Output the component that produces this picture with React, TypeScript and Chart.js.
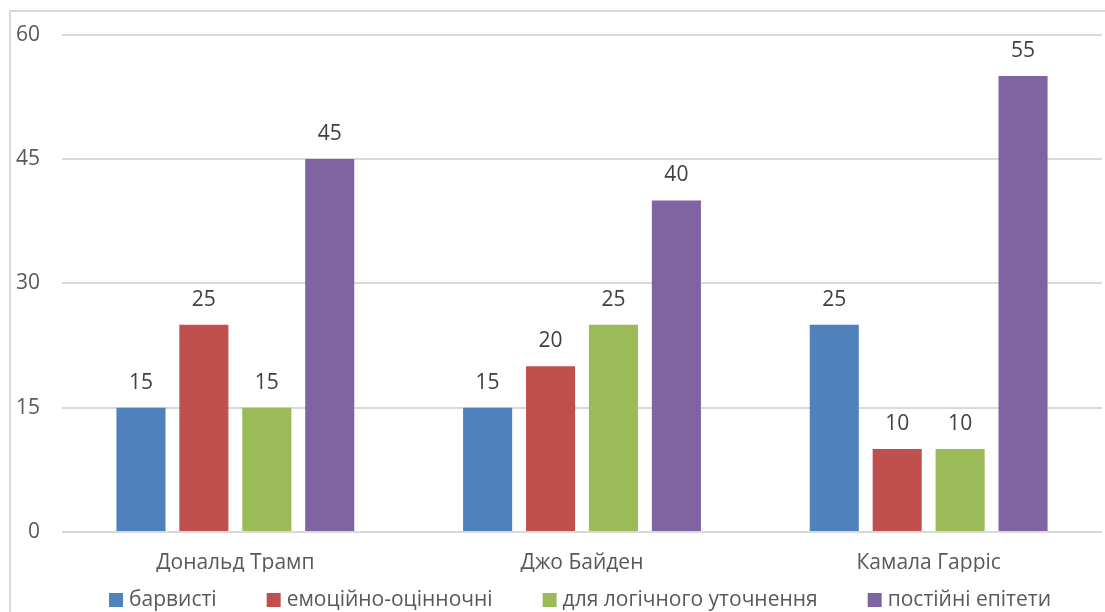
import React, { useEffect, useRef } from "react";
import { Chart, registerables } from "chart.js";

Chart.register(...registerables);

const categories = ["Дональд Трамп", "Джо Байден", "Камала Гарріс"];
const seriesNames = ["барвисті", "емоційно-оцінночні", "для логічного уточнення", "постійні епітети"];
const barvysti = [15, 15, 25];
const emotsiini = [25, 20, 10];
const logichni = [15, 25, 10];
const postiini = [45, 40, 55];
const yTicks = [0, 15, 30, 45, 60];
const colors = ["#4f81bd", "#c0504d", "#9bbb59", "#8064a2"];

const FONT = "'Open Sans', 'Liberation Sans', sans-serif";
const FSIZE = 21;

const valueLabels = {
  id: "valueLabels",
  afterDatasetsDraw(chart: any) {
    const ctx = chart.ctx;
    ctx.save();
    ctx.font = `${FSIZE}px ${FONT}`;
    ctx.fillStyle = "#404040";
    ctx.textAlign = "center";
    ctx.textBaseline = "middle";
    chart.data.datasets.forEach((ds: any, i: number) => {
      const meta = chart.getDatasetMeta(i);
      meta.data.forEach((bar: any, j: number) => {
        ctx.fillText(String(ds.data[j]), bar.x, bar.y - 25);
      });
    });
    ctx.restore();
  },
};

const bottomLegend = {
  id: "bottomLegend",
  afterDraw(chart: any) {
    const ctx = chart.ctx;
    ctx.save();
    ctx.font = `${FSIZE}px ${FONT}`;
    ctx.textBaseline = "middle";
    ctx.textAlign = "left";
    const box = 14;
    const gapBoxText = 6;
    const gapItems = 50;
    const items = chart.data.datasets.map((ds: any) => ({
      label: ds.label,
      color: ds.backgroundColor,
      w: box + gapBoxText + ctx.measureText(ds.label).width,
    }));
    const total = items.reduce((a: number, it: any) => a + it.w, 0) + gapItems * (items.length - 1);
    const ca = chart.chartArea;
    let x = (ca.left + ca.right) / 2 - total / 2 - 2;
    const cy = 600;
    items.forEach((it: any) => {
      ctx.fillStyle = it.color;
      ctx.fillRect(x, cy - box / 2, box, box);
      ctx.fillStyle = "#595959";
      ctx.fillText(it.label, x + box + gapBoxText, cy);
      x += it.w + gapItems;
    });
    ctx.restore();
  },
};

export default function App() {
  const ref = useRef<HTMLCanvasElement>(null);
  useEffect(() => {
    const seriesData = [barvysti, emotsiini, logichni, postiini];
    const chart = new Chart(ref.current!, {
      type: "bar",
      data: {
        labels: categories,
        datasets: seriesNames.map((n, i) => ({
          label: n,
          data: seriesData[i],
          backgroundColor: colors[i],
          borderWidth: 0,
          categoryPercentage: 0.726,
          barPercentage: 0.78,
        })),
      },
      options: {
        animation: false,
        responsive: false,
        maintainAspectRatio: false,
        layout: { padding: { left: 0, right: 3, top: 34, bottom: 40 } },
        plugins: {
          legend: { display: false },
          tooltip: { enabled: false },
        },
        scales: {
          x: {
            grid: { display: false, drawTicks: false },
            border: { display: false },
            afterFit: (s: any) => {
              s.height = 40;
            },
            ticks: { color: "#595959", font: { family: FONT, size: FSIZE }, padding: 18 },
          },
          y: {
            min: 0,
            max: 60,
            afterBuildTicks: (s: any) => {
              s.ticks = yTicks.map((v) => ({ value: v }));
            },
            afterFit: (s: any) => {
              s.width = 62;
            },
            grid: { color: "#d9d9d9", lineWidth: 2, drawTicks: false },
            border: { display: false },
            ticks: { color: "#595959", font: { family: FONT, size: FSIZE }, padding: 22 },
          },
        },
      },
      plugins: [valueLabels, bottomLegend],
    });
    return () => chart.destroy();
  }, []);
  return (
    <div style={{ position: "fixed", left: 0, top: 0, width: 1105, height: 612, background: "#fff", overflow: "hidden" }}>
      <div style={{ position: "absolute", left: 9, top: 10, width: 1096, height: 602, borderLeft: "2px solid #d9d9d9", borderTop: "2px solid #d9d9d9" }} />
      <canvas ref={ref} width={1105} height={612} style={{ position: "absolute", left: 0, top: 0 }} />
    </div>
  );
}
